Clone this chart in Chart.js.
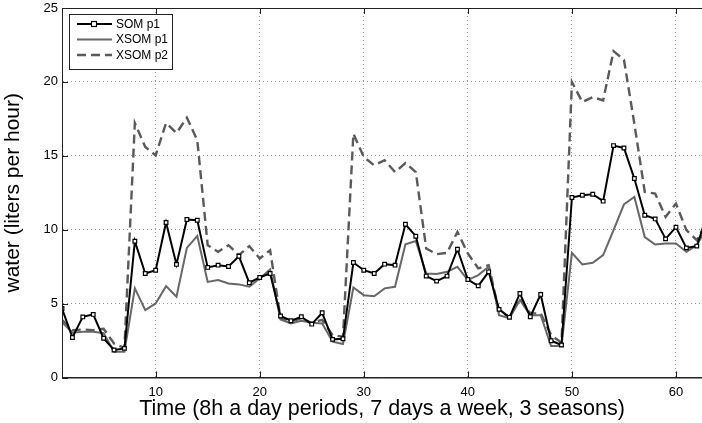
<!DOCTYPE html>
<html>
<head>
<meta charset="utf-8">
<script src="https://cdn.jsdelivr.net/npm/chart.js@4/dist/chart.umd.min.js"></script>
<style>
  html, body { margin: 0; padding: 0; background: #fff; }
  #wrap { width: 702px; height: 423px; position: relative; }
</style>
</head>
<body>
<div id="wrap"><canvas id="chart"></canvas></div>
<script>
// ===== DADOS =====
const periods = [1,2,3,4,5,6,7,8,9,10,11,12,13,14,15,16,17,18,19,20,21,
  22,23,24,25,26,27,28,29,30,31,32,33,34,35,36,37,38,39,40,41,42,
  43,44,45,46,47,48,49,50,51,52,53,54,55,56,57,58,59,60,61,62,63];

const somP1 = [4.67,2.71,4.10,4.27,2.65,1.86,1.97,9.22,7.04,7.26,10.49,7.65,10.69,10.64,7.45,7.60,7.51,8.20,6.41,6.77,7.04,
  4.16,3.84,4.11,3.61,4.38,2.58,2.62,7.78,7.26,7.04,7.67,7.60,10.37,9.56,6.86,6.52,6.86,8.68,6.63,6.20,7.15,
  4.61,4.07,5.69,4.11,5.62,2.49,2.20,12.18,12.33,12.40,11.93,15.69,15.53,13.46,10.98,10.73,9.38,10.17,8.77,8.89,11.0];

const xsomP1 = [3.75,3.03,3.10,3.10,3.00,1.74,1.74,6.03,4.56,5.01,6.18,5.46,8.77,9.58,6.47,6.59,6.36,6.30,6.14,6.70,7.31,
  3.93,3.66,3.84,3.70,3.66,2.42,2.26,6.09,5.57,5.50,6.03,6.14,9.02,9.24,7.04,7.00,7.15,7.49,6.59,6.93,7.49,
  4.22,4.00,5.24,4.22,4.22,2.13,2.13,8.43,7.65,7.76,8.28,9.97,11.72,12.22,9.50,9.00,9.07,9.07,8.50,8.95,10.2];

const xsomP2 = [3.90,3.20,3.25,3.20,3.30,2.30,2.00,17.22,15.60,15.03,17.22,16.54,17.58,16.05,8.95,8.50,8.95,8.28,8.89,8.05,8.61,
  4.00,3.80,4.00,3.70,3.90,2.87,2.76,16.50,14.92,14.36,14.70,13.90,14.51,13.90,8.73,8.34,8.43,9.85,8.39,7.38,7.60,
  4.45,4.11,5.35,4.34,4.34,2.87,2.35,19.99,18.64,18.97,18.75,22.08,21.50,17.17,12.56,12.44,10.87,11.77,9.97,9.29,10.6];

const xTicks = [10, 20, 30, 40, 50, 60];
const yTicks = [0, 5, 10, 15, 20, 25];
const seriesNames = ['SOM p1', 'XSOM p1', 'XSOM p2'];

const FONT = '"Liberation Sans", Arial, Helvetica, sans-serif';

// ===== PLUGINS =====
// caixa do eixo + ticks para dentro (estilo matlab)
const boxPlugin = {
  id: 'box',
  afterDraw(chart) {
    const { ctx, chartArea: a, scales } = chart;
    ctx.save();
    ctx.strokeStyle = '#222';
    ctx.lineWidth = 1;
    ctx.strokeRect(a.left + 0.5, a.top + 0.5, a.right - a.left, a.bottom - a.top);
    ctx.beginPath();
    xTicks.forEach(v => {
      const x = Math.round(scales.x.getPixelForValue(v)) + 0.5;
      ctx.moveTo(x, a.bottom); ctx.lineTo(x, a.bottom - 6);
      ctx.moveTo(x, a.top); ctx.lineTo(x, a.top + 6);
    });
    yTicks.forEach(v => {
      const y = Math.round(scales.y.getPixelForValue(v)) + 0.5;
      ctx.moveTo(a.left, y); ctx.lineTo(a.left + 6, y);
    });
    ctx.stroke();
    ctx.restore();
  }
};

// legenda dentro do grafico
const legendPlugin = {
  id: 'boxLegend',
  afterDraw(chart) {
    const ctx = chart.ctx;
    const bx = 69, by = 14, bw = 103, bh = 55;
    ctx.save();
    ctx.fillStyle = '#fff';
    ctx.fillRect(bx, by, bw, bh);
    ctx.strokeStyle = '#222';
    ctx.lineWidth = 1;
    ctx.strokeRect(bx + 0.5, by + 0.5, bw, bh);
    ctx.font = '12px ' + FONT;
    ctx.textBaseline = 'middle';
    chart.data.datasets.forEach((ds, i) => {
      const y = 24 + i * 15.5;
      ctx.strokeStyle = ds.borderColor;
      ctx.lineWidth = ds.borderWidth;
      ctx.setLineDash(ds.borderDash || []);
      ctx.beginPath();
      ctx.moveTo(77, y); ctx.lineTo(112, y);
      ctx.stroke();
      ctx.setLineDash([]);
      if (ds.pointRadius > 0) {
        ctx.fillStyle = '#fff';
        ctx.lineWidth = 1.2;
        ctx.fillRect(91.5, y - 2.5, 5, 5);
        ctx.strokeRect(91.5, y - 2.5, 5, 5);
      }
      ctx.fillStyle = '#000';
      ctx.fillText(ds.label, 116, y + 0.5);
    });
    ctx.restore();
  }
};

// ===== GRAFICO =====
new Chart(document.getElementById('chart'), {
  type: 'line',
  data: {
    datasets: [
      {
        label: seriesNames[0],
        data: periods.map((p, i) => ({ x: p, y: somP1[i] })),
        borderColor: '#000', borderWidth: 2,
        pointStyle: 'rect', pointRadius: 2.6, pointBorderWidth: 1.2,
        pointBackgroundColor: '#fff', pointBorderColor: '#000',
        order: 0
      },
      {
        label: seriesNames[1],
        data: periods.map((p, i) => ({ x: p, y: xsomP1[i] })),
        borderColor: '#676767', borderWidth: 2, pointRadius: 0,
        order: 1
      },
      {
        label: seriesNames[2],
        data: periods.map((p, i) => ({ x: p, y: xsomP2[i] })),
        borderColor: '#5a5a5a', borderWidth: 2.4, borderDash: [9, 5], pointRadius: 0,
        order: 2
      }
    ]
  },
  options: {
    responsive: true,
    maintainAspectRatio: false,
    animation: false,
    layout: { autoPadding: false, padding: { top: 8, right: 0, left: 0, bottom: 0 } },
    elements: { line: { tension: 0 } },
    plugins: { legend: { display: false }, tooltip: { enabled: false } },
    scales: {
      x: {
        type: 'linear', min: 1, max: 62.5,
        afterBuildTicks: s => { s.ticks = xTicks.map(v => ({ value: v })); },
        afterFit: s => { s.height = 45.5; s.paddingLeft = 0; s.paddingRight = 0; },
        grid: { color: '#999', lineWidth: 1, drawTicks: false },
        border: { color: '#222', dash: [1, 3] },
        ticks: { padding: 7, color: '#000', font: { size: 13, family: FONT } },
        title: { display: true, text: 'Time (8h a day periods, 7 days a week, 3 seasons)',
          color: '#000', font: { size: 21.5, family: FONT }, padding: { top: 0, bottom: 1 } }
      },
      y: {
        min: 0, max: 25,
        afterBuildTicks: s => { s.ticks = yTicks.map(v => ({ value: v })); },
        afterFit: s => { s.width = 62; s.paddingTop = 0; s.paddingBottom = 0; },
        grid: { color: '#999', lineWidth: 1, drawTicks: false },
        border: { color: '#222', dash: [1, 3] },
        ticks: { padding: 4, color: '#000', font: { size: 13, family: FONT } },
        title: { display: true, text: 'water (liters per hour)',
          color: '#000', font: { size: 21, family: FONT }, padding: { top: 1, bottom: 0 } }
      }
    }
  },
  plugins: [boxPlugin, legendPlugin]
});
</script>
</body>
</html>
